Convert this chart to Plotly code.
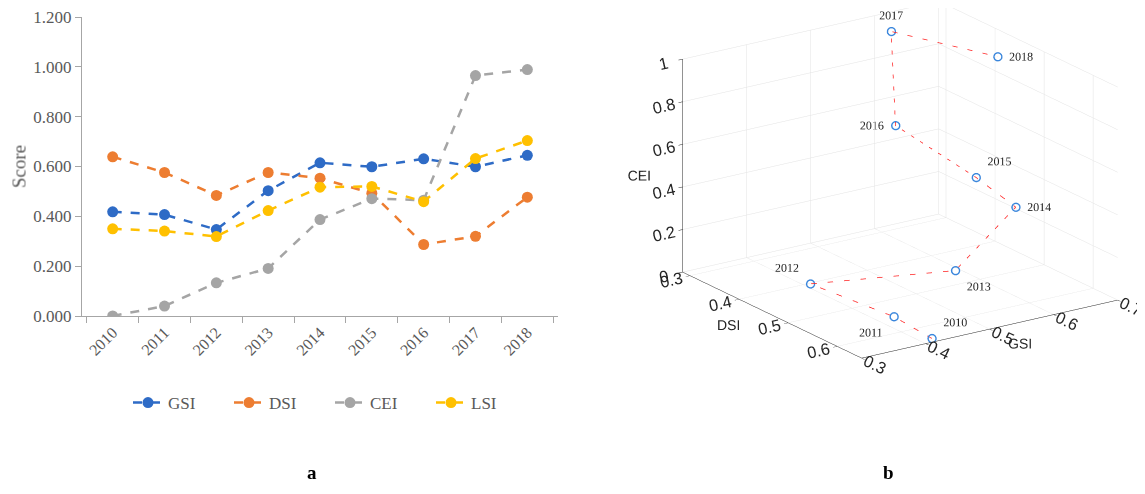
import plotly.graph_objects as go

years = ["2010", "2011", "2012", "2013", "2014", "2015", "2016", "2017", "2018"]
gsi = [0.418, 0.407, 0.347, 0.503, 0.615, 0.599, 0.631, 0.599, 0.645]
dsi = [0.639, 0.576, 0.484, 0.576, 0.553, 0.493, 0.287, 0.320, 0.477]
cei = [0.000, 0.040, 0.133, 0.191, 0.387, 0.471, 0.465, 0.965, 0.989]
lsi = [0.350, 0.341, 0.319, 0.423, 0.517, 0.520, 0.459, 0.632, 0.704]
y_ticks = [0.0, 0.2, 0.4, 0.6, 0.8, 1.0, 1.2]
y_tick_text = ["0.000", "0.200", "0.400", "0.600", "0.800", "1.000", "1.200"]
year_text_pos = ["top right", "bottom left", "top left", "bottom right", "middle right",
                 "top right", "middle left", "top center", "middle right"]

series = [("GSI", gsi, "#2E6BC6"), ("DSI", dsi, "#ED7D31"),
          ("CEI", cei, "#A5A5A5"), ("LSI", lsi, "#FFC000")]

serif = "Liberation Serif, Times New Roman, serif"
sans = "Liberation Sans, Arial, Helvetica, sans-serif"

W, H = 1137, 486  # page has an 8px body margin


def px(x):
    return (x - 8) / W


def py(y):
    return 1 - (y - 8) / H


fig = go.Figure()
for name, vals, col in series:
    fig.add_trace(go.Scatter(
        x=years, y=vals, name=name, mode="lines+markers",
        line=dict(color=col, width=2.5, dash="dash"),
        marker=dict(color=col, size=11),
        xaxis="x", yaxis="y"))

# 3D: plotly x = DSI, y = GSI, z = CEI
fig.add_trace(go.Scatter3d(
    x=dsi, y=gsi, z=cei, text=years, mode="lines+markers+text",
    textposition=year_text_pos,
    textfont=dict(family=serif, size=12, color="#262626"),
    line=dict(color="#FF2020", width=1.5, dash="dash"),
    marker=dict(symbol="circle-open", size=5, color="#3A86DC", line=dict(width=1.2, color="#3A86DC")),
    showlegend=False, scene="scene"))

axis3d = dict(showbackground=False, gridcolor="#E3E3E3", gridwidth=1,
              showline=True, linecolor="#262626", linewidth=1,
              zeroline=False, showspikes=False, ticks="outside", ticklen=5,
              tickcolor="#262626",
              tickfont=dict(family=sans, size=14, color="#262626"),
              title_font=dict(family=sans, size=14, color="#262626"))

cx, cy, cz = -0.0969, -0.1856, -0.0731
fig.update_layout(
    width=W, height=H,
    margin=dict(l=0, r=0, t=0, b=0, autoexpand=False),
    paper_bgcolor="white", plot_bgcolor="white",
    showlegend=True,
    legend=dict(orientation="h", x=px(128), xanchor="left", y=py(403), yanchor="middle",
                font=dict(family=serif, size=17, color="#595959"),
                entrywidth=56, entrywidthmode="pixels", tracegroupgap=0),
    xaxis=dict(domain=[px(82), px(558)], type="category", showline=True, linecolor="#A6A6A6",
               linewidth=1.2, ticks="outside", ticklen=6, tickcolor="#A6A6A6", automargin=False,
               tickson="boundaries", tickangle=-45, showgrid=False,
               tickfont=dict(family=serif, size=16, color="#595959")),
    yaxis=dict(domain=[py(316), py(17)], range=[0, 1.2001], tickvals=y_ticks, ticktext=y_tick_text,
               showline=True, linecolor="#A6A6A6", linewidth=1.2, ticks="outside", ticklen=6,
               tickcolor="#A6A6A6", showgrid=False, zeroline=False, automargin=False,
               ticklabeloverflow="allow",
               tickfont=dict(family=serif, size=17, color="#595959"),
               title=dict(text="Score", font=dict(family=serif, size=19, color="#595959"), standoff=8)),
    scene=dict(
        domain=dict(x=[0.5, 1.0], y=[0.234, 1.0]),
        xaxis=dict(axis3d, title=dict(text="DSI"), range=[0.285, 0.65], tickvals=[0.3, 0.4, 0.5, 0.6]),
        yaxis=dict(axis3d, title=dict(text="GSI"), range=[0.3, 0.7], tickvals=[0.3, 0.4, 0.5, 0.6, 0.7]),
        zaxis=dict(axis3d, title=dict(text="CEI"), range=[0, 1.0], tickvals=[0, 0.2, 0.4, 0.6, 0.8, 1]),
        aspectmode="manual", aspectratio=dict(x=1.70, y=1.67, z=1.213),
        camera=dict(projection=dict(type="orthographic"),
                    eye=dict(x=1.556 + cx, y=-1.069 + cy, z=0.660 + cz),
                    center=dict(x=cx, y=cy, z=cz), up=dict(x=0, y=0, z=1)),
    ),
    annotations=[
        dict(text="<b>a</b>", x=px(305), y=py(485), xref="paper", yref="paper",
             showarrow=False, font=dict(family=serif, size=19, color="black")),
        dict(text="<b>b</b>", x=px(896), y=py(485), xref="paper", yref="paper",
             showarrow=False, font=dict(family=serif, size=19, color="black")),
    ],
)

fig.write_html("out.html")
